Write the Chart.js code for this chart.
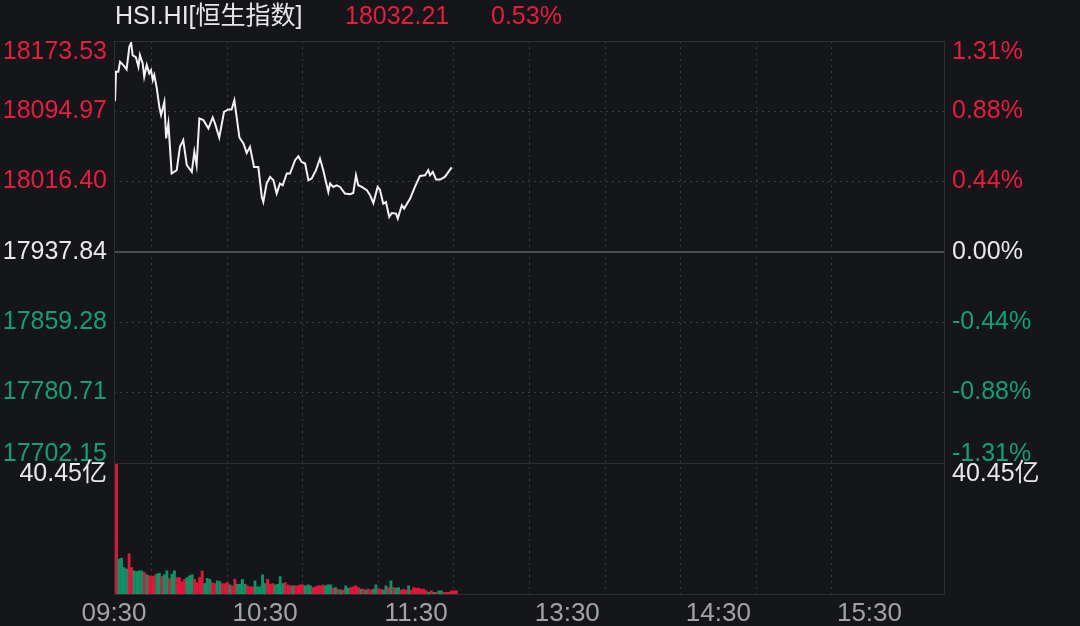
<!DOCTYPE html>
<html lang="zh">
<head>
  <meta charset="UTF-8">
  <title>HSI.HI 恒生指数 分时</title>
  <script src="https://cdn.jsdelivr.net/npm/chart.js"></script>
  <style>
    html, body { margin: 0; padding: 0; background: #141619; }
    #wrap { width: 1080px; height: 626px; }
  </style>
</head>
<body>
  <div id="wrap"><canvas id="chartCanvas" width="1080" height="626"></canvas></div>

  <script>
    // 标题 / 昨收
    const symbolName = 'HSI.HI[恒生指数]';
    const prevClose = 17937.84;
    const lastPrice = 18032.21;

    // 价格轴刻度
    const priceTicks = [18173.53, 18094.97, 18016.40, 17937.84, 17859.28, 17780.71, 17702.15];

    // 时间轴：距 09:30 的分钟数（午休压缩，12:00 与 13:00 同一位置）
    const sessionMinutes = 330;
    const gridMinutes = [0, 30, 60, 90, 120, 150, 180, 210, 240, 270, 300, 330];
    const labelMinutes = [0, 60, 120, 180, 240, 300];
    const timeLabels = ['09:30', '10:30', '11:30', '13:30', '14:30', '15:30'];

    // 分时价格
    const priceMin = [
      0.4, 0.8, 1.7, 2.4, 3.7, 5.0, 6.1, 6.8, 7.4, 8.7,
      9.7, 10.3, 11.4, 12.0, 13.0, 14.0, 14.7, 15.4, 16.0, 17.0,
      18.0, 18.7, 20.0, 20.7, 21.6, 22.9, 24.9, 26.2, 27.5, 28.9,
      30.9, 31.9, 32.8, 33.9, 35.5, 37.5, 39.2, 40.1, 41.8, 43.7,
      45.4, 46.7, 47.8, 49.8, 51.4, 52.7, 54.0, 55.6, 57.3, 58.7,
      59.3, 60.6, 62.0, 63.3, 64.6, 65.9, 67.0, 68.6, 69.9, 71.9,
      73.2, 74.5, 75.9, 77.2, 78.5, 80.2, 81.8, 83.1, 85.1, 85.8,
      87.1, 88.4, 89.8, 91.7, 93.7, 95.0, 96.1, 97.0, 98.4, 100.4,
      101.7, 103.0, 104.7, 105.6, 106.9, 108.0, 109.3, 110.3, 112.0, 112.7,
      114.3, 115.2, 117.6, 119.5, 121.5, 123.5, 124.8, 125.5, 126.6, 127.9,
      129.5, 131.4, 134.1
    ];
    const prices = [
      18106.3, 18139.1, 18139.1, 18150.3, 18146.6, 18141.8, 18167.1, 18171.6, 18157.8, 18155.3,
      18144.7, 18157.8, 18148.5, 18133.5, 18146.6, 18137.4, 18141.0, 18129.9, 18135.5, 18120.6,
      18100.0, 18090.7, 18105.5, 18064.6, 18081.4, 18025.4, 18029.1, 18055.2, 18062.7, 18034.7,
      18027.2, 18049.6, 18034.7, 18087.0, 18085.1, 18075.8, 18088.1, 18081.4, 18065.7, 18094.4,
      18097.0, 18097.0, 18107.4, 18065.7, 18059.0, 18048.4, 18055.2, 18032.8, 18032.8, 17999.2,
      17993.6, 18014.2, 18021.6, 18017.9, 18003.0, 18014.2, 18012.3, 18025.4, 18025.4, 18040.3,
      18044.7, 18038.4, 18036.6, 18017.9, 18019.8, 18029.1, 18042.2, 18029.1, 18004.8, 18014.2,
      18010.4, 18012.3, 18010.4, 18003.0, 18002.2, 18003.6, 18023.5, 18012.3, 18010.4, 18006.7,
      18001.1, 17992.4, 18010.4, 18007.4, 17991.8, 17993.6, 17976.8, 17981.2, 17980.6, 17975.0,
      17989.9, 17986.2, 17997.4, 18010.4, 18022.7, 18023.5, 18029.1, 18023.5, 18027.2, 18018.6,
      18018.6, 18021.6, 18032.21
    ];

    // 成交额（亿），每分钟一根
    const volumeMax = 40.45;
    const volumes = [
      40.45, 11.0, 11.3, 8.4, 7.9, 12.6, 8.4, 7.4, 7.2, 7.4,
      7.4, 6.9, 6.2, 5.9, 5.6, 5.9, 6.4, 6.6, 5.6, 6.2,
      7.4, 5.1, 6.4, 7.4, 5.3, 5.3, 4.1, 4.8, 5.3, 5.9,
      6.2, 4.8, 3.8, 5.3, 7.4, 3.5, 5.1, 4.8, 3.8, 3.5,
      4.3, 4.1, 3.5, 3.5, 3.8, 3.1, 2.8, 4.8, 3.3, 3.3,
      4.8, 3.3, 2.8, 2.5, 2.5, 4.3, 2.5, 2.5, 6.2, 3.5,
      4.8, 3.3, 3.5, 3.1, 3.3, 5.6, 3.5, 3.8, 3.1, 2.8,
      2.8, 2.8, 2.8, 3.1, 3.1, 2.8, 3.1, 2.8, 2.3, 2.5,
      2.8, 2.8, 3.1, 2.8, 3.1, 3.1, 2.1, 2.3, 1.8, 1.5,
      1.5, 2.8, 2.1, 2.3, 2.5, 2.8, 2.3, 1.8, 1.8, 1.5,
      1.8, 1.5, 1.8, 3.1, 1.8, 1.8, 1.5, 2.8, 2.3, 4.3,
      2.3, 2.1, 2.3, 1.5, 1.8, 1.5, 2.8, 1.5, 2.3, 2.1,
      2.1, 1.8, 1.8, 1.3, 0.8, 1.3, 0.8, 0.8, 1.3, 1.3,
      0.8, 0.8, 0.8, 1.3, 1.3, 1.3
    ];
    // r = 涨, g = 跌
    const volumeDir = (
      'rggggrrggg' + 'grgrrrggrg' + 'grggrrrrgg' + 'grrrrgggrr' + 'ggrrrgrrgg' +
      'ggrrrggggg' + 'rrrggggrrr' + 'grrrrgggrr' + 'rrrgggrgrg' + 'rggrrrrgrg' +
      'rrggrrggrg' + 'rggrrrgrrr' + 'rrrrgrgrgg' + 'rrrrrr'
    ).split('');

    // 颜色
    const BG = '#141619';
    const UP = '#ea1b40';
    const DOWN = '#13a070';
    const BAR_UP = '#e2163b';
    const BAR_DOWN = '#0d9465';
    const TEXT = '#e8e8e8';
    const AXIS_TEXT = '#a3a3a3';
    const GRID = '#3a3c41';
    const FRAME = '#2d2f34';
    const FONT = '25px "Liberation Sans", Arial, "Noto Sans CJK SC", sans-serif';

    function levelColor(v) {
      if (Math.abs(v - prevClose) < 0.005) return TEXT;
      return v > prevClose ? UP : DOWN;
    }
    function pctText(v) {
      return ((v - prevClose) / prevClose * 100).toFixed(2) + '%';
    }

    // 标题、两侧刻度文字、边框
    const overlay = {
      id: 'overlay',
      beforeDraw(chart) {
        const ctx = chart.ctx;
        ctx.save();
        ctx.fillStyle = BG;
        ctx.fillRect(0, 0, chart.width, chart.height);
        ctx.restore();
      },
      afterDatasetsDraw(chart) {
        const { ctx, chartArea: a, scales } = chart;
        const y = scales.y, yv = scales.yv;
        ctx.save();

        ctx.strokeStyle = FRAME;
        ctx.lineWidth = 1;
        ctx.strokeRect(a.left + 0.5, a.top + 0.5, a.right - a.left - 1, a.bottom - a.top - 1);
        ctx.beginPath();
        ctx.moveTo(a.left, Math.round(y.bottom) + 0.5);
        ctx.lineTo(a.right, Math.round(y.bottom) + 0.5);
        ctx.stroke();

        ctx.font = FONT;
        ctx.textBaseline = 'middle';
        priceTicks.forEach(v => {
          let py = y.getPixelForValue(v);
          py = Math.min(Math.max(py, y.top + 11), y.bottom - 9);
          ctx.fillStyle = levelColor(v);
          ctx.textAlign = 'right';
          ctx.fillText(v.toFixed(2), a.left - 7, py);
          ctx.textAlign = 'left';
          ctx.fillText(pctText(v), a.right + 7, py);
        });

        const vy = yv.top + 11;
        ctx.fillStyle = TEXT;
        ctx.textAlign = 'right';
        ctx.fillText(yv.max.toFixed(2) + '亿', a.left - 7, vy);
        ctx.textAlign = 'left';
        ctx.fillText(yv.max.toFixed(2) + '亿', a.right + 7, vy);

        // 标题行
        ctx.textAlign = 'left';
        ctx.fillStyle = TEXT;
        ctx.fillText(symbolName, 115, 17);
        ctx.fillStyle = levelColor(lastPrice);
        ctx.fillText(lastPrice.toFixed(2), 345, 17);
        ctx.fillText(pctText(lastPrice), 491, 17);
        ctx.restore();
      }
    };

    const chart = new Chart(document.getElementById('chartCanvas'), {
      type: 'bar',
      data: {
        datasets: [
          {
            type: 'line',
            label: '价格',
            data: priceMin.map((m, i) => ({ x: m, y: prices[i] })),
            yAxisID: 'y',
            borderColor: '#f2f2f2',
            borderWidth: 2,
            pointRadius: 0,
            tension: 0,
            order: 1
          },
          {
            type: 'line',
            label: '昨收',
            data: [{ x: 0, y: prevClose }, { x: sessionMinutes, y: prevClose }],
            yAxisID: 'y',
            borderColor: '#4a4c51',
            borderWidth: 2,
            pointRadius: 0,
            order: 2
          },
          {
            type: 'bar',
            label: '成交额',
            data: volumes.map((v, i) => ({ x: i + 1, y: v })),
            yAxisID: 'yv',
            backgroundColor: volumeDir.map(d => d === 'r' ? BAR_UP : BAR_DOWN),
            barThickness: 2.2,
            order: 3
          }
        ]
      },
      options: {
        responsive: false,
        animation: false,
        devicePixelRatio: 1,
        layout: { padding: { top: 41, left: 0, right: 0, bottom: 0 } },
        plugins: { legend: { display: false }, tooltip: { enabled: false } },
        scales: {
          x: {
            type: 'linear',
            min: 0,
            max: sessionMinutes,
            offset: false,
            afterBuildTicks: s => { s.ticks = gridMinutes.map(v => ({ value: v })); },
            afterFit: s => { s.height = 31; },
            ticks: {
              autoSkip: false,
              maxRotation: 0,
              padding: 3,
              color: AXIS_TEXT,
              font: { family: '"Liberation Sans", Arial, sans-serif', size: 26 },
              callback: v => {
                const k = labelMinutes.indexOf(v);
                return k >= 0 ? timeLabels[k] : '';
              }
            },
            grid: {
              drawTicks: false,
              color: c => (c.tick && (c.tick.value === 0 || c.tick.value === sessionMinutes)) ? 'rgba(0,0,0,0)' : GRID
            },
            border: { display: false, dash: [2, 4] }
          },
          // 下方成交额区（先定义者排在下方）
          yv: {
            position: 'left',
            stack: 'main',
            stackWeight: 132,
            min: 0,
            max: volumeMax,
            offset: false,
            afterFit: s => { s.width = 114; },
            ticks: { display: false },
            grid: { display: false },
            border: { display: false }
          },
          y: {
            position: 'left',
            stack: 'main',
            stackWeight: 421,
            min: priceTicks[priceTicks.length - 1],
            max: priceTicks[0],
            offset: false,
            afterBuildTicks: s => { s.ticks = priceTicks.map(v => ({ value: v })); },
            afterFit: s => { s.width = 114; },
            ticks: { display: false },
            grid: {
              drawTicks: false,
              color: c => {
                const v = c.tick ? c.tick.value : null;
                if (v === null || v === prevClose || v === priceTicks[0] || v === priceTicks[priceTicks.length - 1]) return 'rgba(0,0,0,0)';
                return GRID;
              }
            },
            border: { display: false, dash: [2, 4] }
          },
          yr: {
            position: 'right',
            min: priceTicks[priceTicks.length - 1],
            max: priceTicks[0],
            afterFit: s => { s.width = 135; },
            ticks: { display: false },
            grid: { display: false },
            border: { display: false }
          }
        }
      },
      plugins: [overlay]
    });
  </script>
</body>
</html>
